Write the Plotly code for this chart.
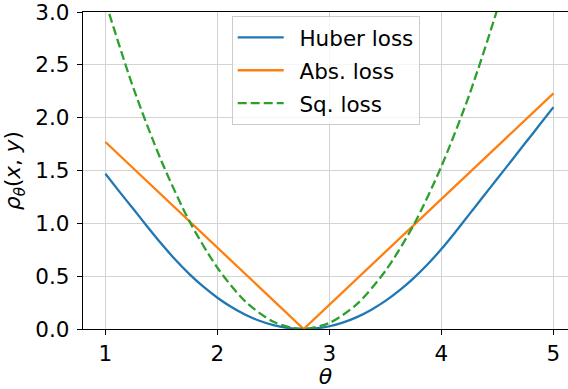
import plotly.graph_objects as go

# Data
theta = [1.0, 1.125, 1.25, 1.375, 1.5, 1.625, 1.75, 1.875, 2.0, 2.125, 2.25, 2.375, 2.5, 2.625,
         2.75, 2.875, 3.0, 3.125, 3.25, 3.375, 3.5, 3.625, 3.75, 3.875, 4.0, 4.125, 4.25, 4.375,
         4.5, 4.625, 4.75, 4.875, 5.0]
huber = [1.47, 1.30, 1.135, 0.968, 0.806, 0.655, 0.520, 0.400, 0.296, 0.208, 0.135, 0.078, 0.036, 0.0105,
         0.0002, 0.0055, 0.026, 0.063, 0.115, 0.183, 0.266, 0.366, 0.480, 0.611, 0.756, 0.918, 1.087, 1.256,
         1.424, 1.593, 1.762, 1.93, 2.10]
theta_abs = [1.0, 2.77, 5.0]
abs_loss = [1.77, 0.0, 2.23]
theta_sq = [1.0, 1.25, 1.5, 1.75, 2.0, 2.25, 2.5, 2.75, 3.0, 3.25, 3.5, 3.75, 4.0, 4.25, 4.5, 4.75]
sq_loss = [3.10, 2.28, 1.59, 1.02, 0.58, 0.26, 0.068, 0.0, 0.058, 0.24, 0.55, 0.98, 1.54, 2.22, 3.03, 3.96]
x_ticks = [1, 2, 3, 4, 5]
y_ticks = [0.0, 0.5, 1.0, 1.5, 2.0, 2.5, 3.0]
y_tick_text = ["0.0", "0.5", "1.0", "1.5", "2.0", "2.5", "3.0"]

FONT = "DejaVu Sans"
FS = 21.5
PAD = "\u2002"

fig = go.Figure()
fig.add_trace(go.Scatter(x=theta, y=huber, mode="lines", name=PAD + "Huber loss",
                         line=dict(color="#1f77b4", width=2.3, shape="spline", smoothing=0.6),
                         legendgroup="a"))
fig.add_trace(go.Scatter(x=theta_abs, y=abs_loss, mode="lines", name=PAD + "Abs. loss",
                         line=dict(color="#ff7f0e", width=2.3), legendgroup="b"))
fig.add_trace(go.Scatter(x=theta_sq, y=sq_loss, mode="lines", name=PAD + "Sq. loss",
                         line=dict(color="#2ca02c", width=2.3, dash="9px,4px", shape="spline", smoothing=0.8),
                         legendgroup="c"))

fig.update_layout(
    width=568, height=389,
    margin=dict(l=83, r=0, t=10, b=60),
    paper_bgcolor="white", plot_bgcolor="white",
    font=dict(family=FONT, size=FS, color="black"),
    showlegend=True,
    legend=dict(x=0.3066, y=0.988, xanchor="left", yanchor="top",
                bgcolor="rgba(255,255,255,0.8)", bordercolor="#cccccc", borderwidth=1,
                font=dict(family=FONT, size=FS, color="black"),
                itemwidth=46, tracegroupgap=2),
    xaxis=dict(range=[0.8, 5.13], tickvals=x_ticks, ticktext=[str(v) for v in x_ticks],
               showgrid=True, gridcolor="#d3d3d3", gridwidth=1.3,
               showline=True, linecolor="black", linewidth=1.3, mirror=True,
               ticks="outside", ticklen=5, tickwidth=1.3, tickcolor="black",
               zeroline=False,
               title=dict(text="<i>θ</i>", font=dict(size=22), standoff=2)),
    yaxis=dict(range=[0, 3], tickvals=y_ticks, ticktext=y_tick_text,
               showgrid=True, gridcolor="#d3d3d3", gridwidth=1.3,
               showline=True, linecolor="black", linewidth=1.3, mirror=False,
               ticks="outside", ticklen=5, tickwidth=1.3, tickcolor="black",
               zeroline=False, ticklabelstandoff=3, ticklabeloverflow="allow",
               title=dict(text="<i>ρ</i><sub><i>θ</i></sub>(<i>x</i>, <i>y</i>)", font=dict(size=FS), standoff=8)),
)

fig.write_html("out.html")
